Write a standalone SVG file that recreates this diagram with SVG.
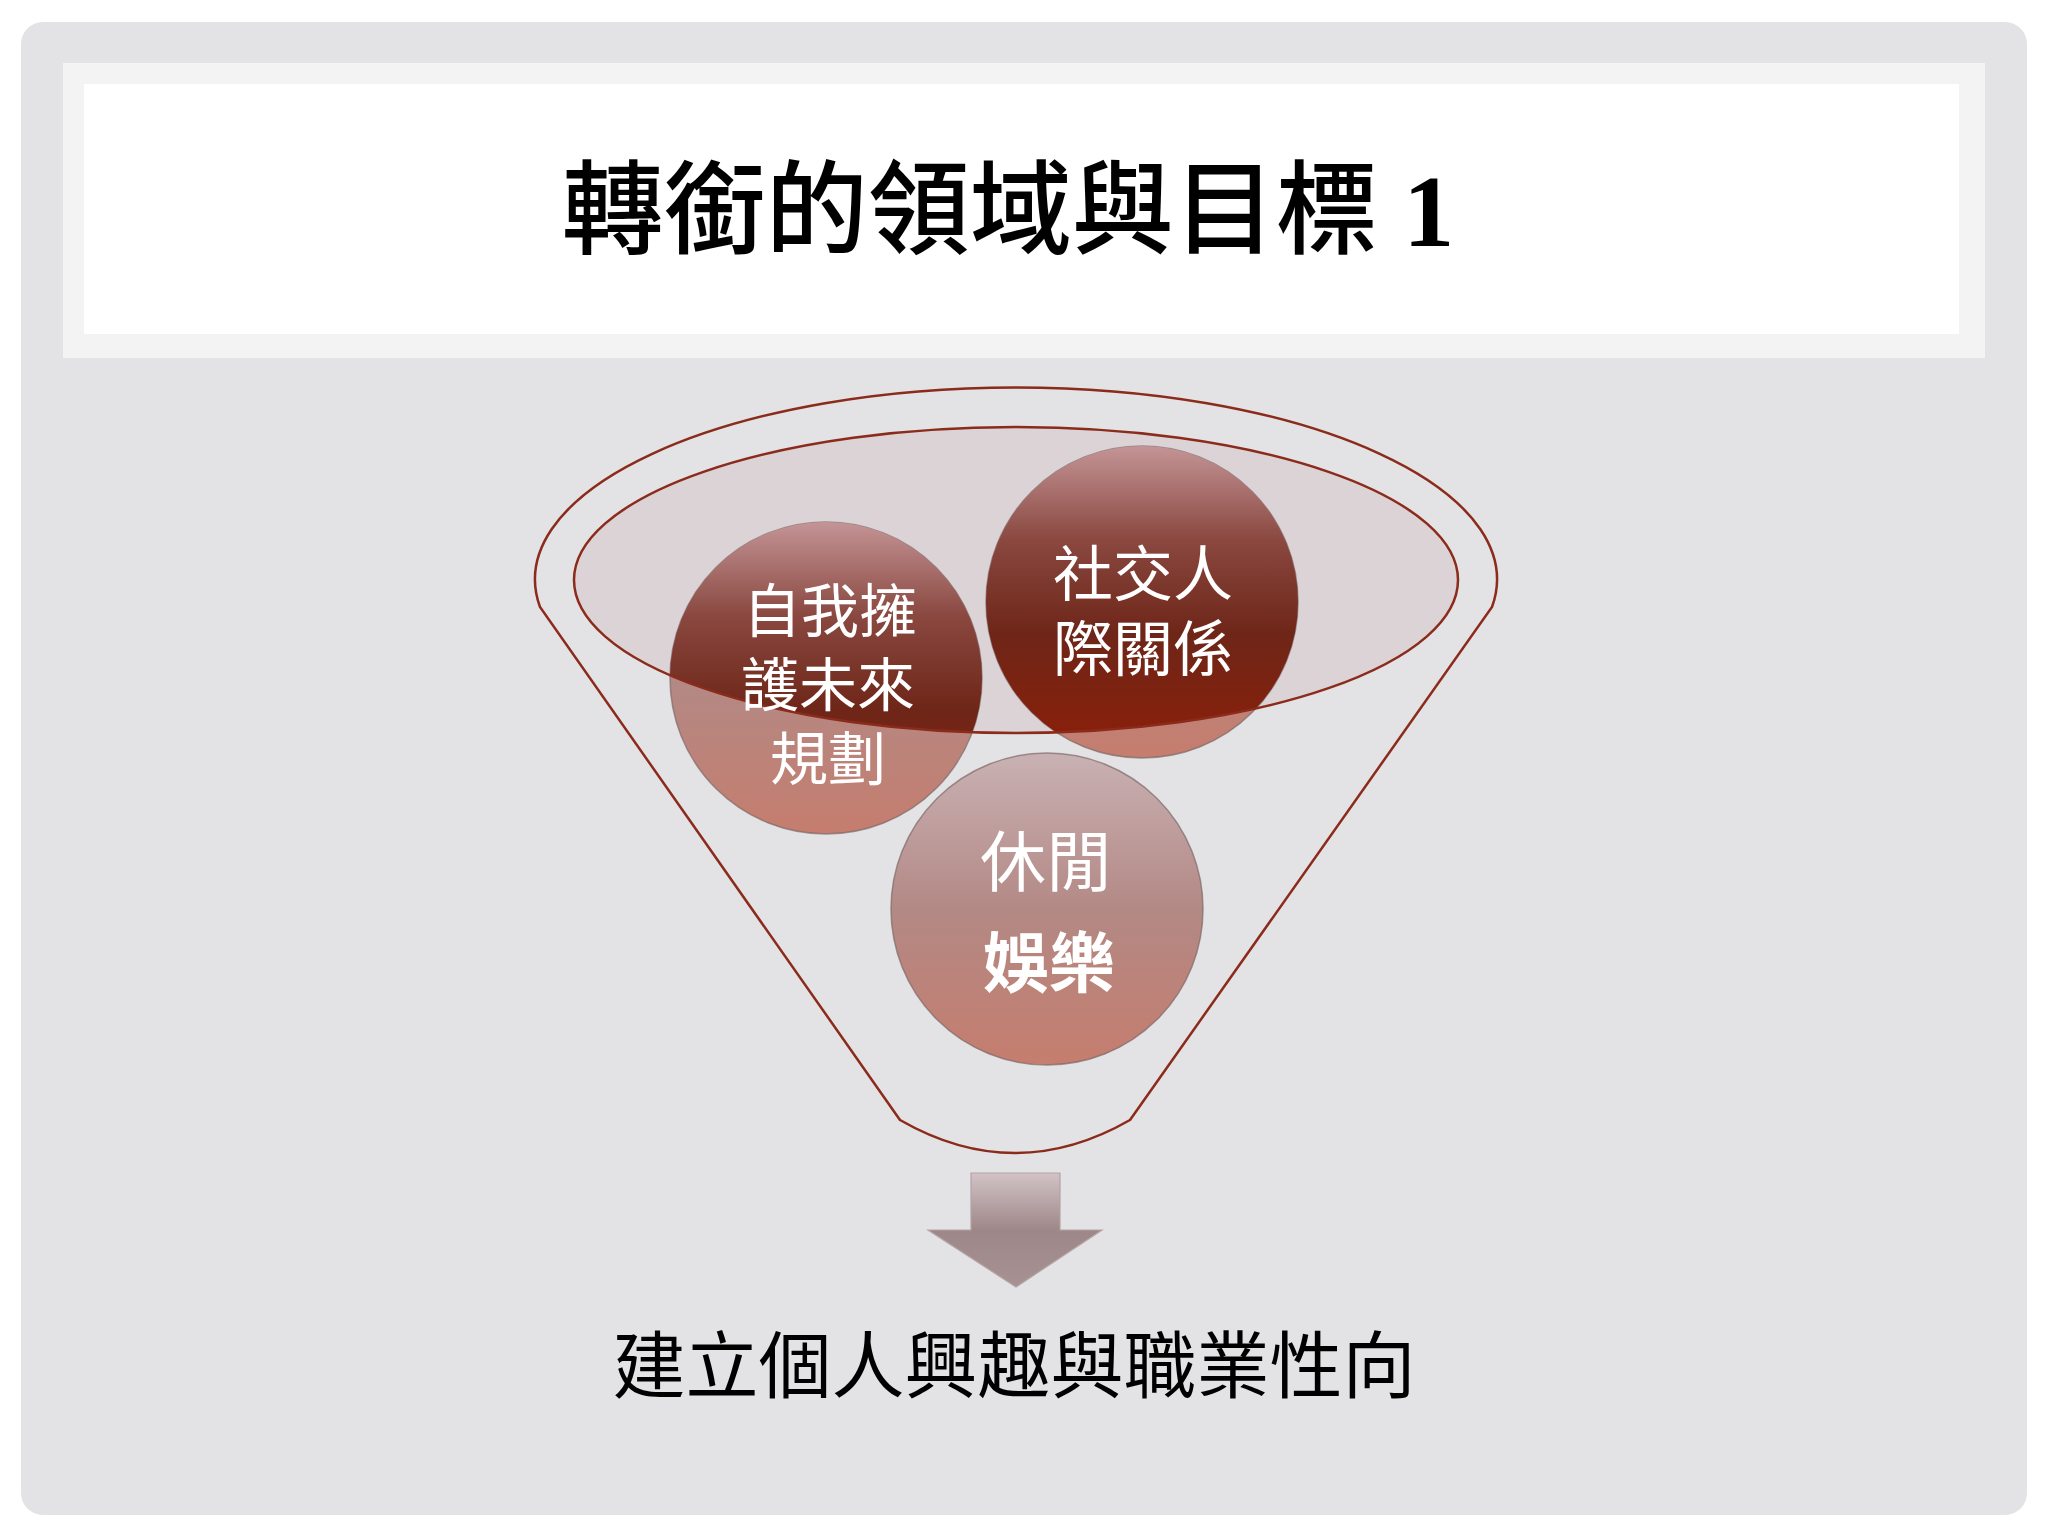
<svg xmlns="http://www.w3.org/2000/svg" width="2048" height="1536" viewBox="0 0 2048 1536">
  <defs>
    <linearGradient id="light" x1="0" y1="0" x2="0" y2="1">
      <stop offset="0" stop-color="#c9b1b3"/>
      <stop offset="0.5" stop-color="#b38985"/>
      <stop offset="1" stop-color="#c57d6e"/>
    </linearGradient>
    <linearGradient id="dark" x1="0" y1="0" x2="0" y2="1">
      <stop offset="0" stop-color="#c49496"/>
      <stop offset="0.3" stop-color="#8a4840"/>
      <stop offset="0.6" stop-color="#6e2618"/>
      <stop offset="0.9" stop-color="#86200c"/>
    </linearGradient>
    <linearGradient id="arrowGrad" x1="0" y1="0" x2="0" y2="1">
      <stop offset="0" stop-color="#d2c3c6"/>
      <stop offset="0.5" stop-color="#9e8788"/>
      <stop offset="1" stop-color="#a89192"/>
    </linearGradient>
    <clipPath id="innerClip">
      <ellipse cx="1016" cy="580" rx="442" ry="153"/>
    </clipPath>
    <style>
      .ttl { font-family: "Liberation Serif", "Noto Sans CJK TC", serif; fill: #000; }
      .lbl { font-family: "Noto Sans CJK TC", "Noto Sans", sans-serif; fill: #ffffff; text-anchor: middle; }
      .edge { fill: none; stroke: #8b2b1b; stroke-width: 2.5; }
      .ring { stroke: #7d6a6a; stroke-width: 1.5; stroke-opacity: 0.7; }
    </style>
  </defs>

  <!-- page background -->
  <rect x="0" y="0" width="2048" height="1536" fill="#ffffff"/>
  <rect x="21" y="22" width="2006" height="1493" rx="22" fill="#e3e2e4"/>

  <!-- title band -->
  <g id="title">
    <rect x="63" y="63" width="1922" height="295" fill="#f3f3f4"/>
    <rect x="84" y="84" width="1875" height="250" fill="#ffffff"/>
    <text class="ttl" x="1008" y="246" font-size="102" font-weight="500" text-anchor="middle">轉銜的領域與目標 <tspan font-weight="bold">1</tspan></text>
  </g>

  <!-- funnel -->
  <g id="funnel">
    <path d="M 540 607 A 481 192 0 1 1 1492 607 L 1130 1120 Q 1015 1186 900 1120 Z" fill="#ededee" class="edge"/>
    <ellipse cx="1016" cy="580" rx="442" ry="153" fill="#dbd3d6"/>
  </g>

  <g id="node-self">
    <circle cx="826" cy="678" r="156" fill="url(#light)" class="ring"/>
    <circle cx="826" cy="678" r="156" fill="url(#dark)" clip-path="url(#innerClip)"/>
  </g>
  <g id="node-social">
    <circle cx="1142" cy="602" r="156" fill="url(#light)" class="ring"/>
    <circle cx="1142" cy="602" r="156" fill="url(#dark)" clip-path="url(#innerClip)"/>
  </g>
  <g id="node-leisure">
    <circle cx="1047" cy="909" r="156" fill="url(#light)" class="ring"/>
  </g>

  <ellipse cx="1016" cy="580" rx="442" ry="153" class="edge"/>

  <g id="labels">
    <text class="lbl" font-size="58"><tspan x="830" y="632">自我擁</tspan><tspan x="828" y="706">護未來</tspan><tspan x="828" y="780">規劃</tspan></text>
    <text class="lbl" font-size="60"><tspan x="1143" y="596">社交人</tspan><tspan x="1143" y="671">際關係</tspan></text>
    <text class="lbl" font-size="66"><tspan x="1046" y="886">休閒</tspan><tspan x="1049" y="987" font-weight="bold">娛樂</tspan></text>
  </g>

  <!-- connector arrow -->
  <g id="connectors">
    <path d="M 971 1173 H 1060 V 1230 H 1102 L 1016 1287 L 928 1230 H 971 Z" fill="url(#arrowGrad)" stroke="#b3a3a5" stroke-width="1.2"/>
  </g>

  <g id="result">
    <text class="ttl" x="1014" y="1392" font-size="73" text-anchor="middle">建立個人興趣與職業性向</text>
  </g>
</svg>
